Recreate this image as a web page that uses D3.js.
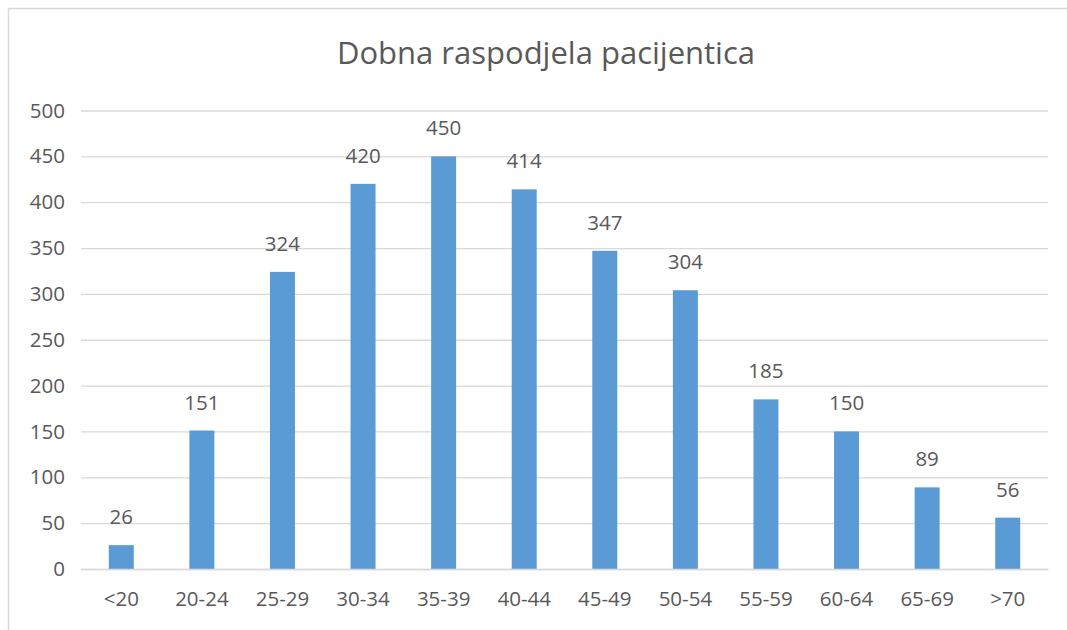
<!DOCTYPE html>
<html><head><meta charset="utf-8">
<script src="https://cdn.jsdelivr.net/npm/d3@7"></script>
<style>body{margin:0;background:#fff}svg{display:block}text{font-family:"Open Sans",sans-serif;fill:#595959}</style>
</head><body><svg id="c" width="1067" height="630"></svg>
<script>
const categories = ["<20","20-24","25-29","30-34","35-39","40-44","45-49","50-54","55-59","60-64","65-69",">70"];
const values = [26,151,324,420,450,414,347,304,185,150,89,56];
const yTicks = [0,50,100,150,200,250,300,350,400,450,500];
const title = "Dobna raspodjela pacijentica";

const svg = d3.select("#c");
svg.append("rect").attr("x",8.5).attr("y",8.5).attr("width",1200).attr("height",800)
  .attr("fill","none").attr("stroke","#D9D9D9").attr("stroke-width",1.5);

const x = d3.scaleBand().domain(categories).range([81,1048]).paddingInner(0.69).paddingOuter(0.345);
const y = d3.scaleLinear().domain([0,500]).range([569,110.5]);

const yAxis = d3.axisLeft(y).tickValues(yTicks).tickSize(-(1048-81)).tickPadding(16);
const gy = svg.append("g").attr("transform","translate(81,0)").call(yAxis);
gy.select(".domain").remove();
gy.selectAll(".tick line").attr("stroke","#D9D9D9").attr("stroke-width",1.3);
gy.selectAll(".tick text").style("font-size","20.5px").attr("fill","#595959");

svg.append("g").selectAll("rect").data(values).join("rect")
  .attr("x",(d,i)=>x(categories[i])).attr("width",x.bandwidth())
  .attr("y",d=>y(d)).attr("height",d=>y(0)-y(d)).attr("fill","#5B9BD5");

const xAxis = d3.axisBottom(x).tickSize(0).tickPadding(22);
const gx = svg.append("g").attr("transform","translate(0,569)").call(xAxis);
gx.select(".domain").attr("stroke","#D9D9D9").attr("stroke-width",1.5);
gx.selectAll(".tick text").style("font-size","20.5px").attr("fill","#595959");

svg.append("g").selectAll("text").data(values).join("text")
  .attr("x",(d,i)=>x(categories[i])+x.bandwidth()/2).attr("y",d=>y(d)-21)
  .attr("text-anchor","middle").style("font-size","20.5px").text(d=>d);

svg.append("text").attr("x",546).attr("y",64).attr("text-anchor","middle")
  .style("font-size","31px").text(title);
</script></body></html>
